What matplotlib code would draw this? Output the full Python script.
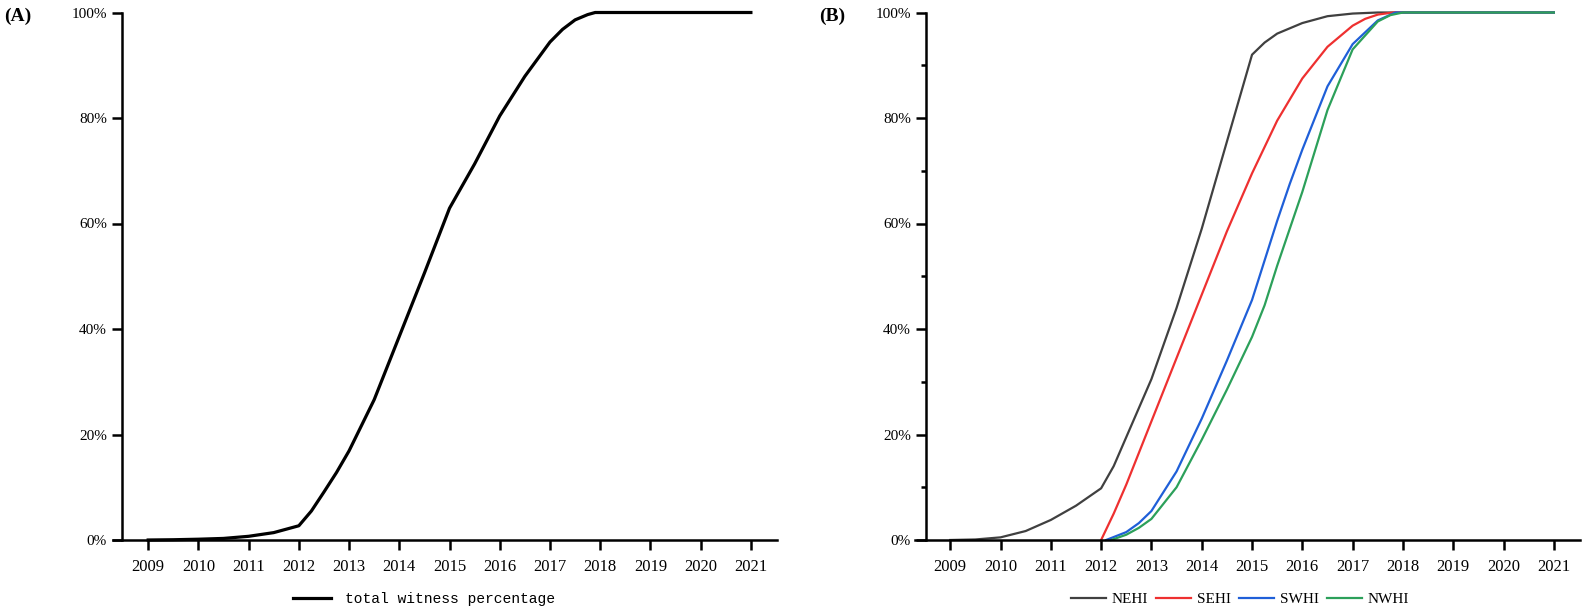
import matplotlib
matplotlib.use("Agg")
import matplotlib.pyplot as plt
from matplotlib.ticker import MultipleLocator, FuncFormatter

plt.rcParams["font.family"] = ["Liberation Serif", "DejaVu Serif"]

# axis ticks
tick_years = list(range(2009, 2022))

# panel A: total witness percentage
years_total = [2009, 2009.5, 2010, 2010.5, 2011, 2011.5, 2012, 2012.25, 2012.5, 2012.75,
               2013, 2013.5, 2014, 2014.5, 2015, 2015.5, 2016, 2016.5, 2017, 2017.25,
               2017.5, 2017.75, 2017.9, 2018, 2019, 2020, 2021]
total_pct = [0, 0.05, 0.15, 0.3, 0.7, 1.4, 2.7, 5.5, 9.1, 12.8,
             16.9, 26.6, 38.6, 50.6, 62.9, 71.3, 80.4, 87.9, 94.4, 96.8,
             98.6, 99.6, 100, 100, 100, 100, 100]

# panel B: regions
years_nehi = [2009, 2009.5, 2010, 2010.5, 2011, 2011.5, 2012, 2012.25, 2012.5, 2012.75,
              2013, 2013.5, 2014, 2014.5, 2015, 2015.25, 2015.5, 2016, 2016.5, 2017,
              2017.5, 2018, 2019, 2020, 2021]
nehi = [0, 0.1, 0.5, 1.7, 3.8, 6.5, 9.8, 14, 19.5, 25,
        30.5, 44, 59, 75.5, 92, 94.3, 96, 98, 99.3, 99.8,
        100, 100, 100, 100, 100]

years_sehi = [2012, 2012.25, 2012.5, 2012.75, 2013, 2013.5, 2014, 2014.5, 2015, 2015.5,
              2016, 2016.5, 2017, 2017.25, 2017.5, 2017.8, 2018, 2019, 2020, 2021]
sehi = [0, 5, 10.5, 16.5, 22.5, 34.5, 46.5, 58.5, 69.5, 79.5,
        87.5, 93.5, 97.5, 98.8, 99.6, 100, 100, 100, 100, 100]

years_swhi = [2012.1, 2012.5, 2012.75, 2013, 2013.5, 2014, 2014.5, 2015, 2015.25, 2015.5,
              2015.75, 2016, 2016.5, 2017, 2017.5, 2017.85, 2018, 2019, 2020, 2021]
swhi = [0, 1.5, 3.2, 5.5, 13, 23, 34, 45.5, 53, 60.5,
        67.5, 74, 86, 94, 98.5, 100, 100, 100, 100, 100]

years_nwhi = [2012.2, 2012.5, 2012.75, 2013, 2013.5, 2014, 2014.5, 2015, 2015.25, 2015.5,
              2015.75, 2016, 2016.5, 2017, 2017.5, 2017.75, 2018, 2019, 2020, 2021]
nwhi = [0, 1, 2.3, 4, 10, 19, 28.5, 38.5, 44.5, 52,
        59, 66, 81.5, 93, 98.3, 99.5, 100, 100, 100, 100]

W, H = 1587, 616
fig = plt.figure(figsize=(W / 100, H / 100), dpi=100)
axA = fig.add_axes([113 / W, 76 / H, 664 / W, 527.5 / H])
axB = fig.add_axes([915 / W, 76 / H, 665 / W, 527.5 / H])


def style(ax, spine_x):
    ax.set_xlim(2008.3, 2021.52)
    ax.set_ylim(0, 100)
    ax.spines[["top", "right"]].set_visible(False)
    ax.spines["left"].set_position(("data", spine_x))
    for s in ax.spines.values():
        s.set_linewidth(1.8)
    ax.set_xticks(tick_years)
    ax.set_yticks(range(0, 101, 20))
    ax.yaxis.set_major_formatter(FuncFormatter(lambda v, p: f"{v:.0f}%"))
    ax.tick_params(axis="both", which="major", length=7, width=1.8)
    ax.tick_params(axis="x", pad=6.5, labelsize=12)
    ax.tick_params(axis="y", pad=4, labelsize=11)


style(axA, 2008.48)
style(axB, 2008.52)
axB.yaxis.set_minor_locator(MultipleLocator(10))
axB.tick_params(axis="y", which="minor", length=3.5, width=1.8)

axA.plot(years_total, total_pct, color="black", linewidth=2.3, clip_on=False,
         label="total witness percentage")

axB.plot(years_nehi, nehi, color="#404040", linewidth=1.6, clip_on=False, label="NEHI")
axB.plot(years_sehi, sehi, color="#ee3030", linewidth=1.6, clip_on=False, label="SEHI")
axB.plot(years_swhi, swhi, color="#1f5fd8", linewidth=1.6, clip_on=False, label="SWHI")
axB.plot(years_nwhi, nwhi, color="#2ca05a", linewidth=1.6, clip_on=False, label="NWHI")

axA.legend(loc="center", bbox_to_anchor=(424 / W, 1 - 599 / H), bbox_transform=fig.transFigure,
           frameon=False, prop={"family": "Liberation Mono", "size": 10.5},
           handlelength=2.6, handletextpad=0.9)
axB.legend(loc="center", bbox_to_anchor=(1240 / W, 1 - 599 / H), bbox_transform=fig.transFigure,
           frameon=False, ncol=4, prop={"size": 11},
           handlelength=2.3, handletextpad=0.4, columnspacing=0.5)

fig.text(4 / W, 1 - 16 / H, "(A)", fontsize=14, fontweight="bold", ha="left", va="center")
fig.text(819 / W, 1 - 16 / H, "(B)", fontsize=14, fontweight="bold", ha="left", va="center")

fig.savefig("out.png", dpi=100)
